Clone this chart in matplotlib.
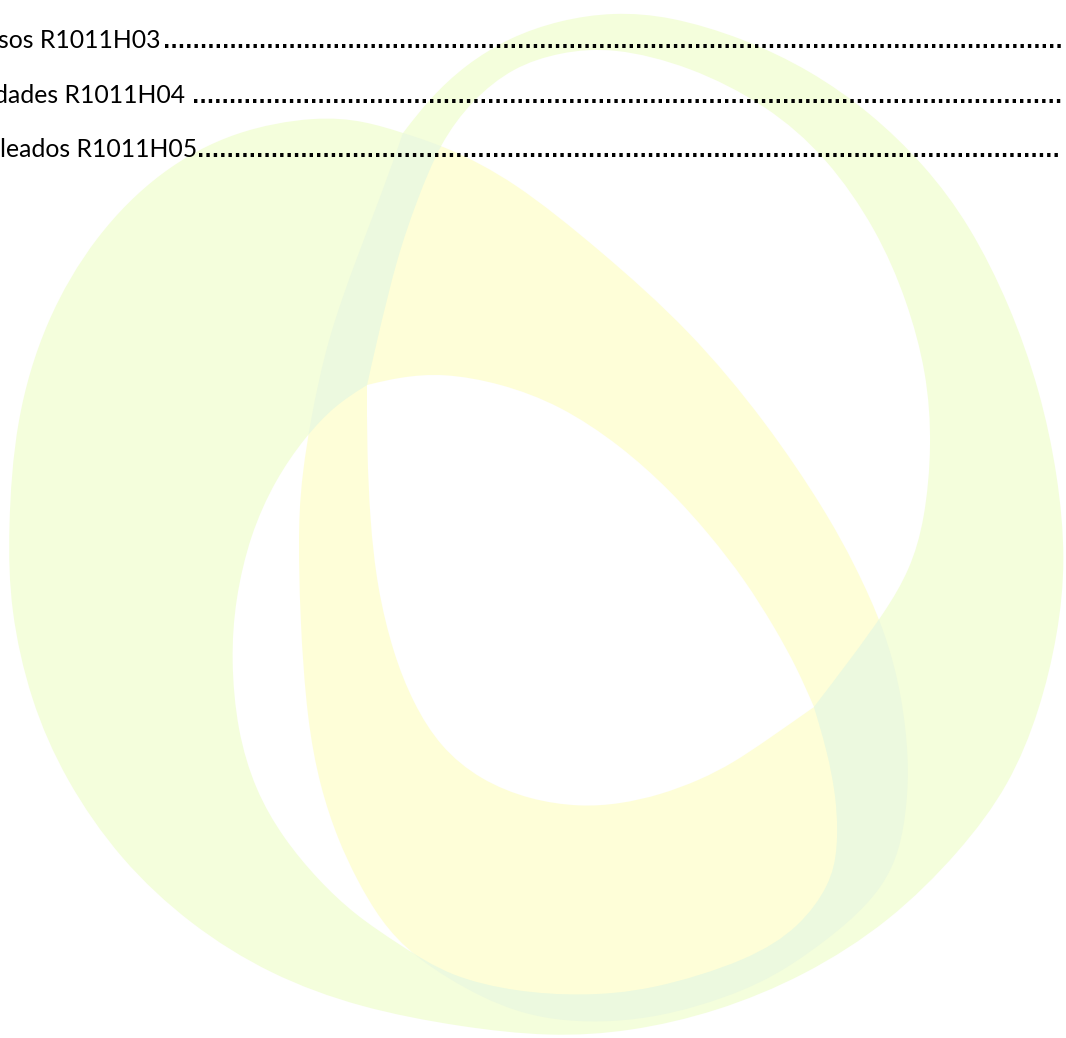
import numpy as np
import matplotlib.pyplot as plt
from matplotlib.path import Path
from matplotlib.patches import PathPatch

# ================= 目录文字 =================
toc_labels = ['sos R1011H03', 'dades R1011H04', 'leados R1011H05']
toc_label_end = [160, 185, 197]      # 文字右端 (px)
toc_dots_start = [163, 192, 197]     # 引导点起点 (px)
toc_baseline = [48, 103, 157]        # 基线 (px)
DOT_STEP = 7.33                      # 引导点间距 (px)

# ================= 水印图形锚点 (像素坐标, y 向下) =================
# 绿色环：外轮廓（左上角尖点起止）
green_outer = [(403, 133), (430, 98), (465, 65), (510, 37), (560, 20), (613, 12),
               (670, 16), (743, 38), (810, 70), (870, 112), (925, 165), (970, 225),
               (1010, 305), (1040, 390), (1058, 475), (1066, 560), (1058, 635),
               (1040, 710), (1010, 785), (960, 852), (890, 922), (805, 976),
               (717, 1012), (630, 1032), (550, 1037), (460, 1027), (360, 1008),
               (270, 975), (190, 925), (120, 860), (65, 780), (30, 700), (10, 610),
               (8, 530), (15, 420), (45, 320), (95, 235), (160, 170), (235, 130),
               (317, 116), (365, 121), (403, 133)]
# 绿色环：内孔（两段，在两个尖点处相接）
green_hole = [
    [(367, 385), (377, 340), (397, 257), (417, 200), (440, 143), (472, 100),
     (513, 67), (560, 52), (613, 47), (690, 66), (767, 105), (827, 157),
     (877, 230), (907, 300), (927, 373), (932, 445), (925, 520), (910, 570),
     (885, 612), (850, 660), (814, 707)],
    [(814, 707), (827, 750), (837, 800), (838, 850), (830, 885), (800, 927),
     (750, 960), (650, 991), (580, 996), (517, 992), (450, 977), (400, 945),
     (355, 915), (318, 880), (283, 838), (255, 790), (237, 730), (231, 660),
     (235, 600), (250, 535), (275, 480), (305, 437), (335, 405), (367, 385)],
]
# 黄色环：外轮廓（左上角尖点起止）
yellow_outer = [(403, 133), (447, 147), (513, 180), (600, 250), (690, 330),
                (767, 423), (825, 510), (855, 565), (885, 630), (902, 695),
                (909, 760), (907, 805), (900, 850), (883, 887), (850, 922),
                (800, 960), (750, 990), (650, 1022), (550, 1023), (483, 1000),
                (413, 957), (380, 920), (357, 880), (338, 840), (320, 787),
                (307, 720), (300, 620), (298, 520), (303, 470), (310, 423),
                (327, 340), (357, 257), (383, 190), (403, 133)]
# 黄色环：内孔
yellow_hole = [
    [(367, 385), (400, 377), (443, 373), (500, 383), (560, 405), (620, 445),
     (670, 490), (710, 535), (745, 580), (775, 628), (797, 668), (814, 707)],
    [(814, 707), (767, 740), (733, 763), (700, 780), (660, 795), (620, 804),
     (580, 807), (530, 800), (480, 780), (440, 747), (413, 703), (393, 653),
     (377, 587), (370, 520), (367, 450), (367, 385)],
]

GREEN = '#F4FEDC'
YELLOW = '#FEFED8'
MINT = '#ECF9DF'


def piece_to_bezier(pts):
    """锚点当作三次 B 样条控制点（两端夹紧），转成贝塞尔段"""
    p = np.asarray(pts, dtype=float)
    q = np.vstack([p[0], p[0], p, p[-1], p[-1]])
    out = []
    for i in range(len(q) - 3):
        a, b, c, d = q[i:i + 4]
        out += [(2 * b + c) / 3, (b + 2 * c) / 3, (b + 4 * c + d) / 6]
    return out


def ring_loop(pieces, ccw):
    allpts = np.vstack([np.asarray(pc, float) for pc in pieces])
    x, y = allpts[:, 0], allpts[:, 1]
    area = 0.5 * np.sum(x * np.roll(y, -1) - np.roll(x, -1) * y)
    if (area > 0) != ccw:
        pieces = [list(reversed(pc)) for pc in reversed(pieces)]
    verts = [pieces[0][0]]
    codes = [Path.MOVETO]
    for pc in pieces:
        seg = piece_to_bezier(pc)
        verts += seg
        codes += [Path.CURVE4] * len(seg)
    verts.append(pieces[0][0])
    codes.append(Path.CLOSEPOLY)
    return verts, codes


def ring_path(outer, hole_pieces):
    v1, c1 = ring_loop([outer], True)
    v2, c2 = ring_loop(hole_pieces, False)
    return Path(np.asarray(v1 + v2, float), c1 + c2)


fig = plt.figure(figsize=(10.66, 10.38), dpi=100)
ax = fig.add_axes([0, 0, 1, 1])
ax.set_xlim(0, 1066)
ax.set_ylim(1038, 0)
ax.axis('off')

yellow_path = ring_path(yellow_outer, yellow_hole)
green_path = ring_path(green_outer, green_hole)

ax.add_patch(PathPatch(yellow_path, facecolor=YELLOW, edgecolor='none', zorder=1))
g_patch = PathPatch(green_path, facecolor=GREEN, edgecolor='none', zorder=2)
ax.add_patch(g_patch)
# 两环重叠处
m_patch = PathPatch(yellow_path, facecolor=MINT, edgecolor='none', zorder=3)
ax.add_patch(m_patch)
m_patch.set_clip_path(g_patch)

# 量一下粗体句点的字宽，让点距接近原图
probe = ax.text(0, 500, '.' * 50, fontsize=10, family='DejaVu Sans', weight='bold')
fig.canvas.draw()
adv10 = probe.get_window_extent().width / 50
probe.remove()
dot_fs = 10 * DOT_STEP / adv10

for label, x_end, x_dot, yb in zip(toc_labels, toc_label_end, toc_dots_start, toc_baseline):
    ax.text(x_end, yb, label, ha='right', va='baseline', fontsize=17.8,
            family='Lato', color='#000000', zorder=5)
    n_dots = int((1066 - x_dot) / DOT_STEP) - 1
    ax.text(x_dot, yb, '.' * n_dots, ha='left', va='baseline', fontsize=dot_fs,
            family='DejaVu Sans', weight='bold', color='#000000', zorder=5)

fig.savefig('out.png', dpi=100)
